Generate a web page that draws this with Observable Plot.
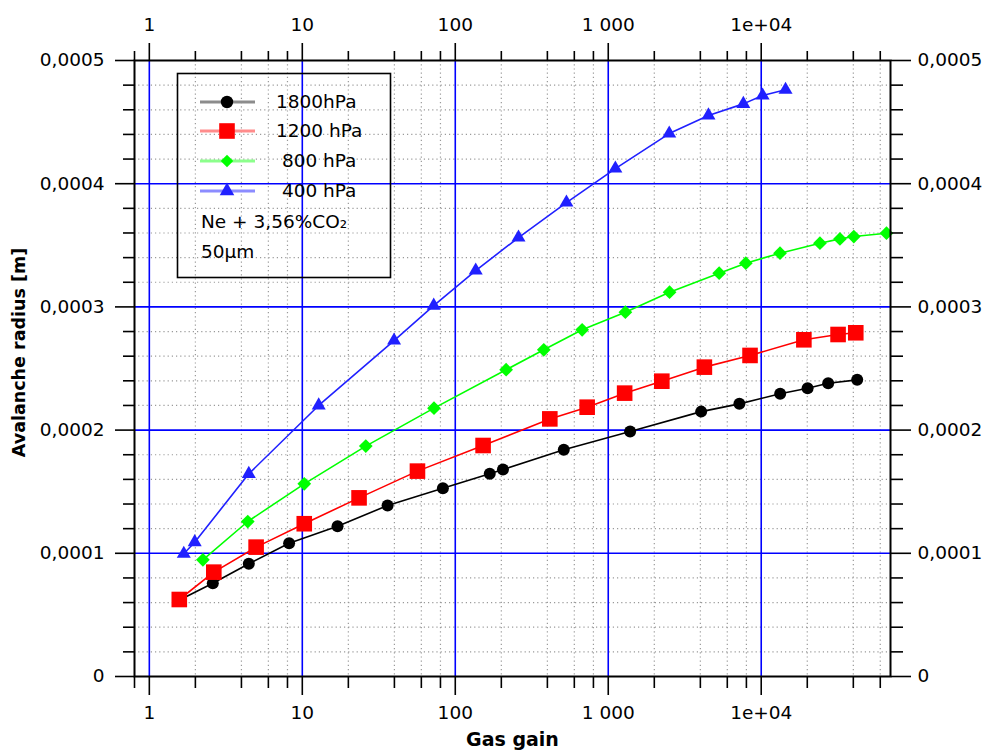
<!DOCTYPE html>
<html>
<head>
<meta charset="utf-8">
<script src="https://cdn.jsdelivr.net/npm/d3@7"></script>
<script src="https://cdn.jsdelivr.net/npm/@observablehq/plot@0.6"></script>
<style>
  body { margin: 0; background: white; }
  #wrap { position: relative; width: 990px; height: 753px; font-family: "DejaVu Sans", sans-serif; }
  #legend { position: absolute; left: 0; top: 0; pointer-events: none; }
</style>
</head>
<body>
<div id="wrap"></div>
<script>
// ---- data ----
const seriesNames = ["1800hPa", "1200 hPa", " 800 hPa", " 400 hPa"];
const seriesColors = ["#000000", "#ff0000", "#00ff00", "#2020ff"];
const legendLineColors = ["#8c8c8c", "#ff8c8c", "#8cff8c", "#8c8cff"];
const seriesSymbols = ["circle", "square", "diamond2", "triangle"];

const gain1800 = [1.6, 2.6, 4.47, 8.2, 17.0, 36.1, 83, 168, 205, 512, 1390, 4050, 7200, 13300, 20100, 27400, 42400];
const radius1800 = [0.0000625, 0.0000757, 0.0000915, 0.0001082, 0.000122, 0.0001388, 0.0001528, 0.0001645, 0.000168, 0.000184, 0.0001989, 0.000215, 0.0002213, 0.0002295, 0.000234, 0.000238, 0.0002408];

const gain1200 = [1.57, 2.64, 4.99, 10.3, 23.5, 56.6, 152, 415, 728, 1280, 2240, 4250, 8450, 19000, 31800, 41500];
const radius1200 = [0.0000625, 0.0000847, 0.000105, 0.000124, 0.000145, 0.0001667, 0.0001875, 0.0002091, 0.0002186, 0.00023, 0.0002397, 0.0002511, 0.0002606, 0.0002733, 0.0002776, 0.000279];

const gain800 = [2.24, 4.40, 10.3, 26.0, 72.6, 215, 379, 675, 1294, 2517, 5310, 7930, 13270, 24200, 32700, 40300, 65900];
const radius800 = [0.0000947, 0.0001258, 0.0001564, 0.000187, 0.0002178, 0.000249, 0.0002652, 0.0002814, 0.0002957, 0.0003119, 0.0003274, 0.0003355, 0.0003436, 0.0003517, 0.0003552, 0.0003571, 0.0003598];

const gain400 = [1.68, 1.98, 4.47, 12.8, 39.8, 72.3, 136, 259, 533, 1113, 2504, 4520, 7640, 10210, 14420];
const radius400 = [0.0000996, 0.000109, 0.0001645, 0.00022, 0.0002727, 0.000301, 0.0003295, 0.0003563, 0.0003847, 0.0004123, 0.0004407, 0.0004554, 0.0004648, 0.0004716, 0.0004762];

const xMajor = [1, 10, 100, 1000, 10000];
const xMajorLabels = ["1", "10", "100", "1 000", "1e+04"];
const xMinor = [0.8, 2, 4, 6, 8, 20, 40, 60, 80, 200, 400, 600, 800, 2000, 4000, 6000, 8000, 20000, 40000, 60000];
const yMajor = [0, 0.0001, 0.0002, 0.0003, 0.0004, 0.0005];
const yMajorLabels = ["0", "0,0001", "0,0002", "0,0003", "0,0004", "0,0005"];
const yMinor = [0.00002, 0.00004, 0.00006, 0.00008, 0.00012, 0.00014, 0.00016, 0.00018,
  0.00022, 0.00024, 0.00026, 0.00028, 0.00032, 0.00034, 0.00036, 0.00038,
  0.00042, 0.00044, 0.00046, 0.00048];
const xTitle = "Gas gain";
const yTitle = "Avalanche radius [m]";
const legendNotes = ["Ne + 3,56%CO\u2082", "50\u00b5m"];

// ---- build table ----
const gains = [gain1800, gain1200, gain800, gain400];
const radii = [radius1800, radius1200, radius800, radius400];
const seriesData = gains.map((g, s) => g.map((v, i) => ({gain: v, radius: radii[s][i], series: seriesNames[s]})));
const dotR = [6, 8.8, 6.2, 5.2];

const xGrid = xMinor.filter(v => v > 1);
const xFmt = d => xMajorLabels[xMajor.indexOf(d)];
const yFmt = d => yMajorLabels[yMajor.indexOf(d)];

const seriesMarks = seriesData.flatMap((data, s) => [
  Plot.line(data, {x: "gain", y: "radius", stroke: seriesColors[s], strokeWidth: 1.6}),
  Plot.dot(data, {x: "gain", y: "radius", symbol: seriesSymbols[s], r: dotR[s], fill: seriesColors[s], stroke: "none"})
]);

const FS = 18.5;
const chart = Plot.plot({
  width: 990,
  height: 753,
  marginLeft: 134,
  marginRight: 100,
  marginTop: 60,
  marginBottom: 77,
  x: {type: "log", domain: [0.8, 70000]},
  y: {domain: [0, 0.0005]},
  style: {fontFamily: "DejaVu Sans, sans-serif", fontSize: FS + "px", background: "white", color: "black", overflow: "visible"},
  marks: [
    Plot.ruleX(xGrid, {stroke: "#9a9a9a", strokeWidth: 1.2, strokeDasharray: "1.2,3"}),
    Plot.ruleY(yMinor, {stroke: "#9a9a9a", strokeWidth: 1.2, strokeDasharray: "1.2,3"}),
    Plot.ruleX(xMajor, {stroke: "#0000ff", strokeWidth: 1.6}),
    Plot.ruleY(yMajor.filter(v => v > 0 && v < 0.0005), {stroke: "#0000ff", strokeWidth: 1.6}),
    ...seriesMarks,
    Plot.frame({stroke: "black", strokeWidth: 2}),
    Plot.axisX({ticks: xMajor, anchor: "bottom", tickSize: 19, tickPadding: 10, tickFormat: xFmt, label: null, strokeWidth: 1.6, fontSize: FS}),
    Plot.axisX({ticks: xMinor, anchor: "bottom", tickSize: 12, tickFormat: () => "", label: null, strokeWidth: 1.6}),
    Plot.axisX({ticks: xMajor, anchor: "top", tickSize: 18, tickPadding: 12, tickFormat: xFmt, label: null, strokeWidth: 1.6, fontSize: FS}),
    Plot.axisX({ticks: xMinor, anchor: "top", tickSize: 10, tickFormat: () => "", label: null, strokeWidth: 1.6}),
    Plot.axisY({ticks: yMajor, anchor: "left", tickSize: 19, tickPadding: 11, tickFormat: yFmt, label: null, strokeWidth: 1.6, fontSize: FS}),
    Plot.axisY({ticks: yMinor, anchor: "left", tickSize: 11, tickFormat: () => "", label: null, strokeWidth: 1.6}),
    Plot.axisY({ticks: yMajor, anchor: "right", tickSize: 20, tickPadding: 7, tickFormat: yFmt, label: null, strokeWidth: 1.6, fontSize: FS}),
    Plot.axisY({ticks: yMinor, anchor: "right", tickSize: 12, tickFormat: () => "", label: null, strokeWidth: 1.6}),
    Plot.text([xTitle], {frameAnchor: "bottom", dy: 69, textAnchor: "middle", fontWeight: "bold", fontSize: 19, text: d => d}),
    Plot.text([yTitle], {frameAnchor: "left", dx: -115, dy: -16, rotate: -90, textAnchor: "middle", lineAnchor: "middle", fontWeight: "bold", fontSize: 17.5, text: d => d})
  ]
});

const wrap = document.getElementById("wrap");
wrap.appendChild(chart);

// ---- legend overlay ----
const svg = d3.select(wrap).append("svg")
  .attr("id", "legend").attr("width", 990).attr("height", 753)
  .style("font-family", "DejaVu Sans, sans-serif").style("font-size", "18.5px");
svg.append("rect").attr("x", 177.5).attr("y", 73.5).attr("width", 213).attr("height", 204)
  .attr("fill", "none").attr("stroke", "black").attr("stroke-width", 1.6);
const rowY = [102, 131, 161, 191];
const legR = [6.2, 8.8, 5.6, 5.4];
seriesNames.forEach((name, s) => {
  const g = svg.append("g").attr("transform", `translate(0,${rowY[s]})`);
  g.append("line").attr("x1", 200).attr("x2", 255).attr("y1", 0).attr("y2", 0)
    .attr("stroke", legendLineColors[s]).attr("stroke-width", 3);
  const sym = {circle: d3.symbolCircle, square: d3.symbolSquare, diamond2: d3.symbolDiamond2, triangle: d3.symbolTriangle}[seriesSymbols[s]];
  g.append("path").attr("transform", "translate(227,0)")
    .attr("d", d3.symbol(sym, Math.PI * legR[s] * legR[s])())
    .attr("fill", seriesColors[s]);
  g.append("text").attr("x", 276).attr("y", 0).attr("dy", "0.35em")
    .style("white-space", "pre").attr("xml:space", "preserve").text(name);
});
legendNotes.forEach((t, i) => {
  svg.append("text").attr("x", 201).attr("y", 222 + i * 30).attr("dy", "0.35em").text(t);
});
</script>
</body>
</html>
